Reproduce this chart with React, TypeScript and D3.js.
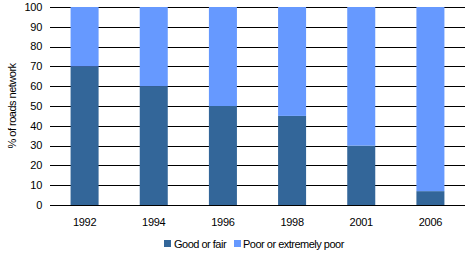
import React from "react";
import * as d3 from "d3";

const categories = ["1992", "1994", "1996", "1998", "2001", "2006"];
const goodOrFair = [70, 60, 50, 45, 30, 7];
const poorOrExtremelyPoor = [30, 40, 50, 55, 70, 93];
const yTicks = [0, 10, 20, 30, 40, 50, 60, 70, 80, 90, 100];
const seriesNames = ["Good or fair", "Poor or extremely poor"];
const colors = ["#336699", "#6699FF"];

export default function App() {
  const W = 470, H = 253;
  const left = 50, right = 465, top = 7, bottom = 205;
  const x = d3.scaleBand().domain(categories).range([left, right]).paddingInner(0.595).paddingOuter(0.2975);
  const y = d3.scaleLinear().domain([0, 100]).range([bottom, top]);
  const font = "'Liberation Sans', Arial, sans-serif";
  const stack = d3.stack<any>().keys(["g", "p"])(
    categories.map((c, i) => ({ c, g: goodOrFair[i], p: poorOrExtremelyPoor[i] }))
  );
  return (
    <svg width={W} height={H} style={{ position: "absolute", left: 0, top: 0 }} fontFamily={font}>
      <rect width={W} height={H} fill="#fff" />
      {yTicks.map((t) => (
        <g key={t}>
          <line x1={left} x2={right} y1={Math.round(y(t)) + 0.5} y2={Math.round(y(t)) + 0.5} stroke="#000" strokeWidth={1} />
          <text x={42} y={y(t)} dy="0.35em" textAnchor="end" fontSize={11} letterSpacing={-0.3}>{t}</text>
        </g>
      ))}
      {stack.map((s, si) =>
        s.map((d, i) => (
          <rect
            key={si + "-" + i}
            x={x(categories[i])}
            width={x.bandwidth()}
            y={y(d[1])}
            height={y(d[0]) - y(d[1])}
            fill={colors[si]}
          />
        ))
      )}
      {categories.map((c) => (
        <text key={c} x={x(c)! + x.bandwidth() / 2} y={222} dy="0.35em" textAnchor="middle" fontSize={11} letterSpacing={-0.3}>{c}</text>
      ))}
      <text transform={`translate(12,${(top + bottom) / 2}) rotate(-90)`} textAnchor="middle" dy="0.35em" fontSize={11} letterSpacing={-0.5}>% of roads network</text>
      <g>
        <rect x={164} y={240} width={7} height={7} fill={colors[0]} />
        <text x={174} y={244} dy="0.35em" fontSize={11} letterSpacing={-0.5}>{seriesNames[0]}</text>
        <rect x={234} y={240} width={7} height={7} fill={colors[1]} />
        <text x={243} y={244} dy="0.35em" fontSize={11} letterSpacing={-0.5}>{seriesNames[1]}</text>
      </g>
    </svg>
  );
}
